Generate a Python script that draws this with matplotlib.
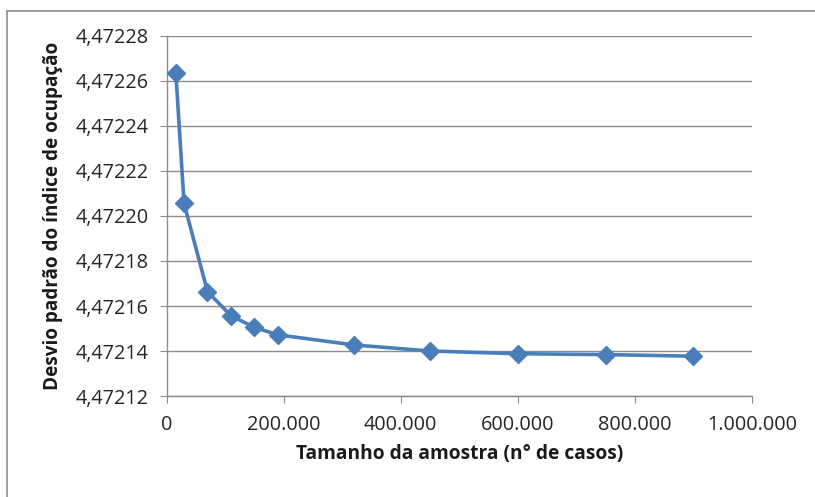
import matplotlib.pyplot as plt
from matplotlib.patches import Rectangle
from matplotlib.ticker import FuncFormatter

plt.rcParams['font.family'] = ['Open Sans', 'DejaVu Sans']

tamanho = [16000, 30000, 70000, 110000, 150000, 190000, 320000, 450000, 600000, 750000, 900000]
desvio = [4.4722634, 4.4722056, 4.4721664, 4.4721557, 4.4721505, 4.4721472,
          4.4721427, 4.4721400, 4.4721388, 4.4721384, 4.4721377]

x_ticks = [0, 200000, 400000, 600000, 800000, 1000000]
y_ticks = [4.47212, 4.47214, 4.47216, 4.47218, 4.47220, 4.47222, 4.47224, 4.47226, 4.47228]

fig = plt.figure(figsize=(8.15, 4.97), dpi=100)
ax = fig.add_axes([0.2043, 0.2032, 0.7184, 0.7244])

# outer chart border (runs off the picture on right and bottom)
fig.patches.append(Rectangle((7 / 815, -0.05), 1.05, 1 - 11 / 497 + 0.05,
                             transform=fig.transFigure, fill=False,
                             edgecolor='#8c8c8c', linewidth=1.2))

ax.plot(tamanho, desvio, color='#4a7ebb', linewidth=2.6, marker='D',
        markersize=9, zorder=3)

ax.set_xlim(0, 1000000)
ax.set_ylim(4.47212, 4.47228)
ax.set_xticks(x_ticks)
ax.set_yticks(y_ticks)
ax.xaxis.set_major_formatter(FuncFormatter(lambda v, p: f'{int(v):,}'.replace(',', '.')))
ax.yaxis.set_major_formatter(FuncFormatter(lambda v, p: f'{v:.5f}'.replace('.', ',')))

ax.grid(axis='y', color='#8c8c8c', linewidth=1)
ax.set_axisbelow(True)
for s in ['top', 'right']:
    ax.spines[s].set_visible(False)
for s in ['left', 'bottom']:
    ax.spines[s].set_color('#8c8c8c')
    ax.spines[s].set_linewidth(1)
ax.tick_params(axis='both', colors='#8c8c8c', labelcolor='#262626', labelsize=14.3,
               length=5, direction='out')
ax.tick_params(axis='x', pad=9)
ax.tick_params(axis='y', pad=8)

ax.set_xlabel('Tamanho da amostra (n° de casos)', fontsize=13.8, fontweight='bold',
              color='#1a1a1a', labelpad=6)
ax.set_ylabel('Desvio padrão do índice de ocupação', fontsize=13.6, fontweight='bold',
              color='#1a1a1a', labelpad=9)

fig.savefig('out.png', dpi=100, facecolor='white')
